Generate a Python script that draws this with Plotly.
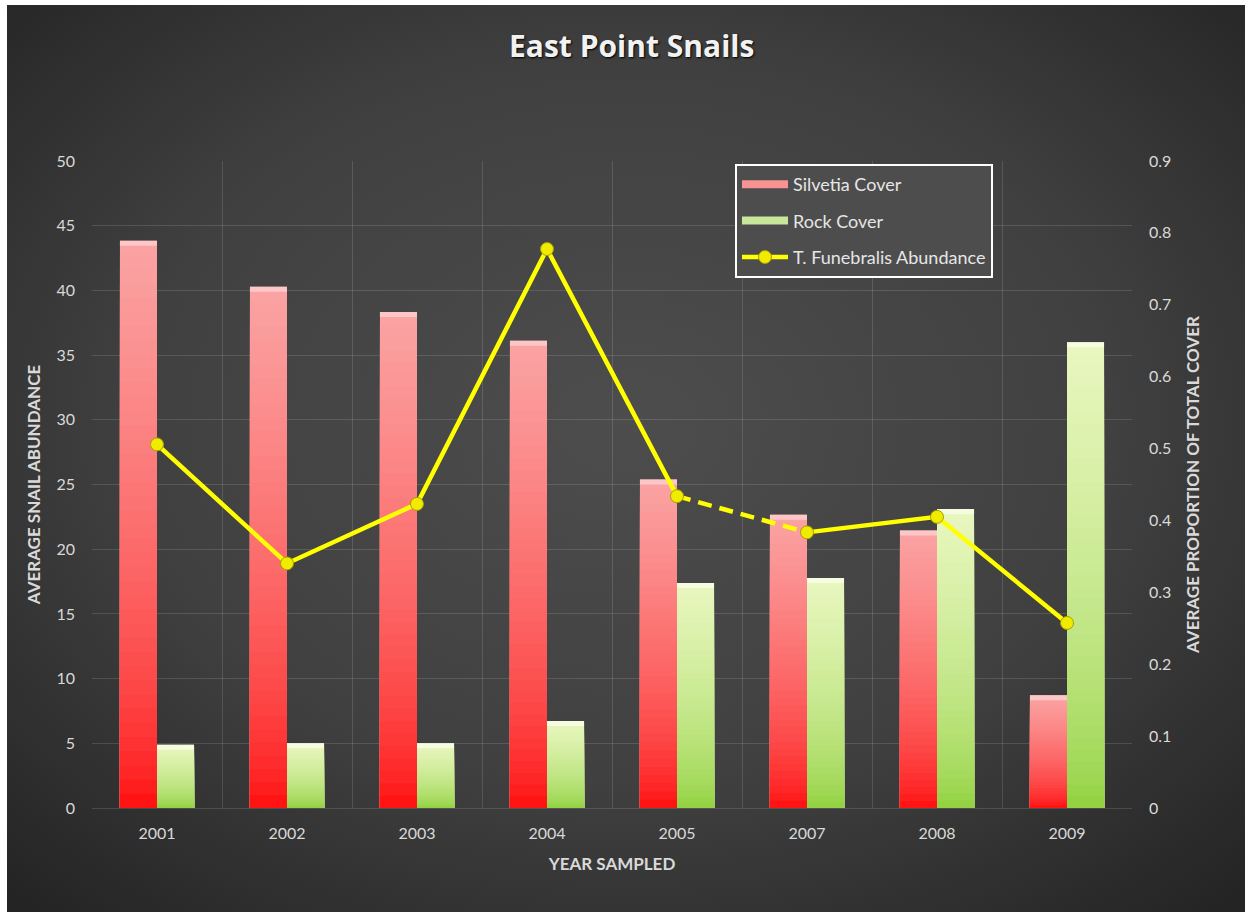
import base64
import plotly.graph_objects as go

# ---- data -------------------------------------------------------------
years = ["2001", "2002", "2003", "2004", "2005", "2007", "2008", "2009"]
silvetia_cover = [0.789, 0.725, 0.690, 0.650, 0.457, 0.408, 0.386, 0.157]
rock_cover = [0.088, 0.090, 0.090, 0.121, 0.313, 0.320, 0.416, 0.648]
snail_abundance = [28.1, 18.9, 23.5, 43.2, 24.1, 21.3, 22.5, 14.3]

# ---- page geometry ----------------------------------------------------
W, H = 1252, 918
M_L, M_R, M_T, M_B = 92, 120, 161, 110
PLOT_W = W - M_L - M_R
PLOT_H = H - M_T - M_B

GRID = "rgba(255,255,255,0.13)"
TEXT = "#d9d9d9"
FONT = "Lato, 'Open Sans', sans-serif"


def _rgb(h):
    h = h.lstrip("#")
    return tuple(int(h[i:i + 2], 16) for i in (0, 2, 4))


def mix(c1, c2, t):
    a, b = _rgb(c1), _rgb(c2)
    return "#%02x%02x%02x" % tuple(round(a[i] + (b[i] - a[i]) * t) for i in range(3))


N_LAYERS = 40
BAR_W = 0.285


def gradient_bars(values, bottom_col, top_col, cap_col, offset):
    """Stack of overlapping bars, each shorter one drawn on top, giving a
    vertical colour ramp from the bottom colour to the top colour."""
    traces = []
    for k in range(N_LAYERS):
        frac = 1 - k / N_LAYERS
        band_mid = frac - 0.5 / N_LAYERS
        col = mix(bottom_col, top_col, band_mid ** 0.6)
        traces.append(go.Bar(
            x=years, y=[v * frac for v in values], width=BAR_W, offset=offset,
            marker=dict(color=col, line=dict(width=0)),
            showlegend=False, hoverinfo="skip", yaxis="y",
        ))
    # soft bevel along the top edge of each bar
    cap = 0.007
    traces.append(go.Bar(
        x=years, y=[cap] * len(values), base=[v - cap for v in values],
        width=BAR_W, offset=offset,
        marker=dict(color=cap_col, line=dict(width=0)),
        showlegend=False, hoverinfo="skip", yaxis="y",
    ))
    return traces


fig = go.Figure()

for t in gradient_bars(silvetia_cover, "#ff0808", "#fba4a4", "#fdc7c7", -BAR_W):
    fig.add_trace(t)
for t in gradient_bars(rock_cover, "#8ccf38", "#e9f7c0", "#f5fcdf", 0.0):
    fig.add_trace(t)

# ---- snail abundance line (dashed across the unsampled year) -----------
line_x, line_y, gap_x, gap_y = [], [], [], []
for i, yr in enumerate(years):
    line_x.append(yr)
    line_y.append(snail_abundance[i])
    if i + 1 < len(years) and int(years[i + 1]) - int(yr) > 1:
        gap_x += [yr, years[i + 1]]
        gap_y += [snail_abundance[i], snail_abundance[i + 1]]
        line_x.append(None)
        line_y.append(None)

fig.add_trace(go.Scatter(
    x=gap_x, y=gap_y, mode="lines", yaxis="y2",
    line=dict(color="#ffff00", width=4.5, dash="14px,8px"),
    showlegend=False, hoverinfo="skip",
))
fig.add_trace(go.Scatter(
    x=line_x, y=line_y, mode="lines+markers", yaxis="y2", connectgaps=False,
    name="T. Funebralis Abundance", legendgroup="c", legendrank=3,
    line=dict(color="#ffff00", width=4.5),
    marker=dict(size=13, color="#f0ec00", line=dict(color="#a89c00", width=1)),
))

# legend swatches for the bar series
fig.add_trace(go.Scatter(
    x=[None], y=[None], mode="lines", name="Silvetia Cover", yaxis="y",
    legendgroup="a", legendrank=1, line=dict(color="#f79393", width=8),
))
fig.add_trace(go.Scatter(
    x=[None], y=[None], mode="lines", name="Rock Cover", yaxis="y",
    legendgroup="b", legendrank=2, line=dict(color="#c9e79a", width=8),
))

# ---- background ---------------------------------------------------------
bg_svg = (
    "<svg xmlns='http://www.w3.org/2000/svg' width='1238' height='907' "
    "preserveAspectRatio='none'><defs><radialGradient id='g' cx='50%' cy='46%' r='72%'>"
    "<stop offset='0' stop-color='#4d4d4d'/><stop offset='0.55' stop-color='#404040'/>"
    "<stop offset='1' stop-color='#242424'/></radialGradient></defs>"
    "<rect width='100%' height='100%' fill='url(#g)'/></svg>"
)
bg_uri = "data:image/svg+xml;base64," + base64.b64encode(bg_svg.encode()).decode()
bx0, by0, bx1, by1 = 7, 5, 1245, 912
fig.add_layout_image(
    source=bg_uri, xref="paper", yref="paper",
    x=(bx0 - M_L) / PLOT_W, y=(H - M_B - by0) / PLOT_H,
    sizex=(bx1 - bx0) / PLOT_W, sizey=(by1 - by0) / PLOT_H,
    xanchor="left", yanchor="top", sizing="stretch", layer="below",
)

axis_title_font = dict(family=FONT, size=17, color=TEXT, weight="bold")

fig.update_layout(
    width=W, height=H,
    margin=dict(l=M_L, r=M_R, t=M_T, b=M_B, autoexpand=False),
    paper_bgcolor="white", plot_bgcolor="rgba(0,0,0,0)",
    barmode="overlay",
    font=dict(family=FONT, size=16, color=TEXT),
    title=dict(
        text="East Point Snails", x=631.7 / W, y=1 - 46.7 / H,
        xanchor="center", yanchor="middle",
        font=dict(family="'Open Sans', Lato, sans-serif", size=30, color="#f2f2f2",
                  weight="bold", shadow="1px 1px 2px #000"),
    ),
    xaxis=dict(
        type="category", range=[-0.5, len(years) - 0.5], tickson="boundaries",
        showgrid=True, gridcolor=GRID, gridwidth=1, ticks="", showline=False,
        zeroline=False, ticklabelstandoff=14,
        title=dict(text="YEAR SAMPLED", font=axis_title_font, standoff=17),
    ),
    yaxis=dict(
        side="right", range=[0, 0.9], dtick=0.1, showgrid=False, zeroline=False,
        ticks="", ticklabelstandoff=16, showline=False,
        title=dict(text="AVERAGE PROPORTION OF TOTAL COVER", font=axis_title_font,
                   standoff=16),
    ),
    yaxis2=dict(
        overlaying="y", side="left", range=[0, 50], dtick=5, showgrid=True,
        gridcolor=GRID, gridwidth=1, zeroline=True, zerolinecolor=GRID,
        zerolinewidth=1, ticks="", ticklabelstandoff=16, showline=False,
        title=dict(text="AVERAGE SNAIL ABUNDANCE", font=axis_title_font, standoff=11),
    ),
    legend=dict(
        x=(735 - M_L) / PLOT_W, y=(H - M_B - 164) / PLOT_H,
        xanchor="left", yanchor="top",
        bgcolor="#4d4d4d", bordercolor="#ffffff", borderwidth=2,
        font=dict(family=FONT, size=18, color="#e6e6e6"),
        traceorder="grouped", tracegroupgap=10, itemwidth=46,
    ),
    showlegend=True,
)

fig.write_html("out.html")
